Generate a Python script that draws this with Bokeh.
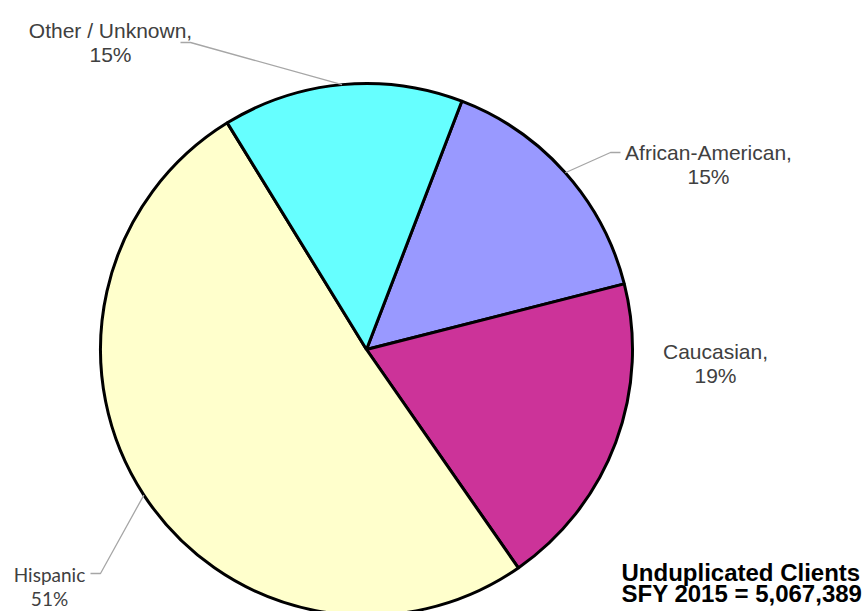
import math
from bokeh.plotting import figure
from bokeh.models import Range1d, ColumnDataSource
from bokeh.core.properties import value
from bokeh.embed import file_html
from bokeh.resources import INLINE

# ---- data (clockwise order starting at first slice) ----
categories = ["African-American", "Caucasian", "Hispanic", "Other / Unknown"]
shares = [15.2, 19.3, 50.9, 14.6]          # percent of clients (estimated)
colors = ["#9999FF", "#CC3399", "#FFFFCC", "#66FFFF"]
total_clients = "5,067,389"
fiscal_year = "SFY 2015"

# ---- layout (screen pixels, y downward) ----
W, H = 864, 611
CX, CY, R = 366, 349, 266
FIRST_ANGLE = 21.0  # degrees clockwise from 12 o'clock

def sy(y):
    return H - y

p = figure(width=W, height=H, output_backend="svg", toolbar_location=None,
           x_range=Range1d(0, W), y_range=Range1d(0, H), min_border=0)
p.axis.visible = False
p.grid.visible = False
p.outline_line_color = None
p.background_fill_color = "white"
p.border_fill_color = "white"

tot = sum(shares)
starts, ends, mids = [], [], []
cum = FIRST_ANGLE
for s in shares:
    a0 = cum
    a1 = cum + 360.0 * s / tot
    starts.append(math.pi / 2 - math.radians(a0))
    ends.append(math.pi / 2 - math.radians(a1))
    mids.append((a0 + a1) / 2)
    cum = a1

src = ColumnDataSource(dict(start=starts, end=ends, color=colors, cat=categories))
p.wedge(x=CX, y=sy(CY), radius=R, start_angle="start", end_angle="end",
        direction="clock", fill_color="color", line_color="black",
        line_width=3, source=src)

# ---- labels ----
# label anchor (center x, baseline y of first line), elbow for leader lines
label_pos = {
    "African-American": dict(x=708, y=152, elbow=(610, 152), end=(620, 152)),
    "Caucasian": dict(x=715, y=351, elbow=None, end=None),
    "Hispanic": dict(x=49, y=574, elbow=(100, 573), end=(90, 573)),
    "Other / Unknown": dict(x=110, y=30, elbow=(190, 42), end=(180, 42)),
}

def edge_point(deg):
    rad = math.radians(deg)
    return CX + R * math.sin(rad), CY - R * math.cos(rad)

for cat, s, m in zip(categories, shares, mids):
    lp = label_pos[cat]
    if lp["elbow"] is not None:
        ex, ey = edge_point(m)
        xs = [ex, lp["elbow"][0], lp["end"][0]]
        ys = [sy(ey), sy(lp["elbow"][1]), sy(lp["end"][1])]
        p.line(xs, ys, line_color="#A6A6A6", line_width=1.3)
    pct = f"{round(s)}%"
    if cat == "Hispanic":
        p.text(x=[lp["x"]], y=[sy(lp["y"])], text=[cat], text_align="center",
               text_baseline="alphabetic", text_font=value("Lato"),
               text_font_size="19px", text_color="#404040")
        p.text(x=[lp["x"]], y=[sy(lp["y"] + 24)], text=[pct], text_align="center",
               text_baseline="alphabetic", text_font=value("Lato"),
               text_font_size="19px", text_color="#404040")
    else:
        p.text(x=[lp["x"]], y=[sy(lp["y"])], text=[cat + ","], text_align="center",
               text_baseline="alphabetic", text_font=value("Liberation Sans"),
               text_font_size="21px", text_color="#404040")
        p.text(x=[lp["x"]], y=[sy(lp["y"] + 24)], text=[pct], text_align="center",
               text_baseline="alphabetic", text_font=value("Liberation Sans"),
               text_font_size="21px", text_color="#404040")

p.text(x=[621], y=[sy(572)], text=["Unduplicated Clients"], text_align="left",
       text_baseline="alphabetic", text_font=value("Liberation Sans"),
       text_font_size="24px", text_font_style="bold", text_color="black")
p.text(x=[621], y=[sy(593)], text=[f"{fiscal_year} = {total_clients}"], text_align="left",
       text_baseline="alphabetic", text_font=value("Liberation Sans"),
       text_font_size="24px", text_font_style="bold", text_color="black")

open("out.html", "w").write(file_html(p, INLINE))
